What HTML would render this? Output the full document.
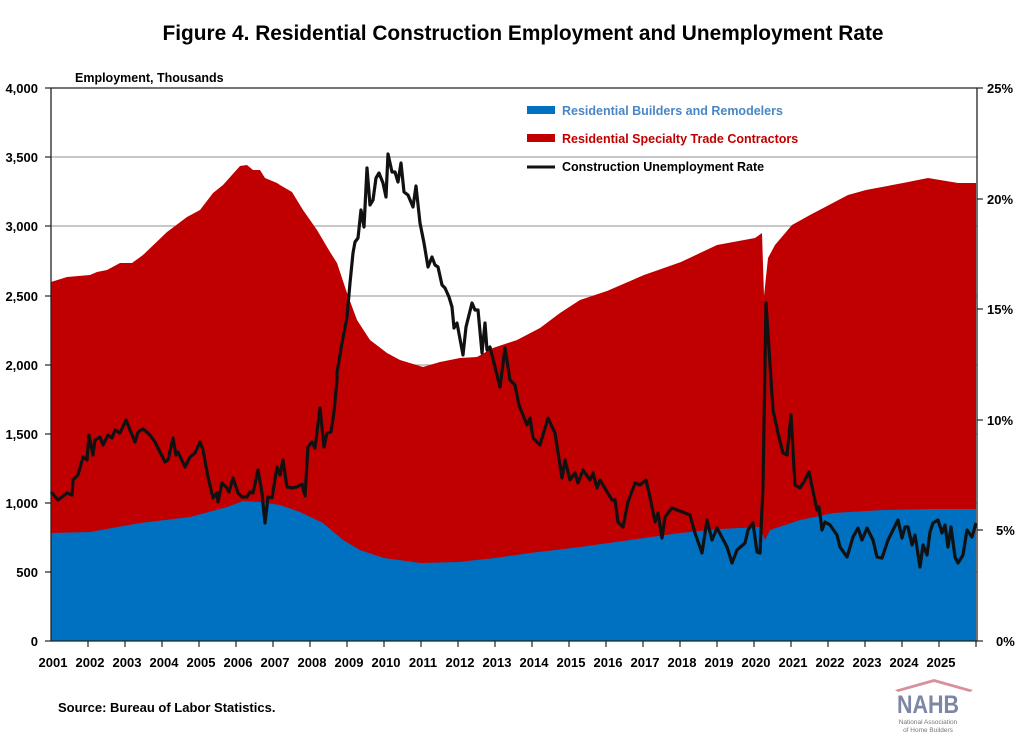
<!DOCTYPE html>
<html><head><meta charset="utf-8"><style>
html,body{margin:0;padding:0;background:#fff;}
svg{display:block;font-family:"Liberation Sans",Arial,sans-serif;}
</style></head><body>
<svg width="1021" height="742" viewBox="0 0 1021 742" xmlns="http://www.w3.org/2000/svg">
<rect width="1021" height="742" fill="#fff"/>
<text x="523" y="40" font-size="21" font-weight="bold" text-anchor="middle" textLength="721" lengthAdjust="spacingAndGlyphs">Figure 4. Residential Construction Employment and Unemployment Rate</text>
<g stroke="#a6a6a6" stroke-width="1.2">
<line x1="51" x2="977" y1="572" y2="572"/><line x1="51" x2="977" y1="503" y2="503"/>
<line x1="51" x2="977" y1="434" y2="434"/><line x1="51" x2="977" y1="365" y2="365"/>
<line x1="51" x2="977" y1="296" y2="296"/><line x1="51" x2="977" y1="226" y2="226"/>
<line x1="51" x2="977" y1="157" y2="157"/>
</g>
<polygon fill="#c00000" points="51,641 51,282 67,277 90,275 97,272 107,270 120,263 132,263 143,255 167,232 187,217 200,210 213,193 223,185 240,166 247,165 253,170 260,170 265,178 277,183 280,185 292,192 303,210 317,230 330,252 337,263 347,293 357,320 370,340 387,353 400,360 423,367 440,362 460,358 477,357 493,348 517,340 540,328 560,313 580,300 607,291 644,275 681,262 717,245 755,238 762,233 764,296 768,258 775,245 792,225 810,215 829,205 848,195 866,190 903,183 928,178 940,180 958,183 976,183 976,641"/>
<polygon fill="#0070c0" points="51,641 51,533 90,532 140,523 190,517 227,507 243,501 260,502 280,505 300,512 323,523 343,540 360,550 384,558 421,563 458,562 495,558 530,553 580,547 630,540 680,533 720,529 760,527 765,540 770,530 800,520 833,513 883,510 930,509 976,509 976,641"/>
<polyline fill="none" stroke="#111" stroke-width="3.2" stroke-linejoin="round" points="51,494 52,493 58,500 67,493 72,495 73,480 78,475 83,457 87,460 89,435 93,455 95,440 100,437 103,445 108,435 112,438 115,430 120,433 126,420 130,430 135,442 138,432 143,429 150,435 155,442 160,452 165,462 168,460 173,438 176,455 178,452 185,467 190,457 195,453 200,442 203,450 208,477 213,498 217,493 218,502 222,483 227,488 229,492 233,478 238,493 242,497 247,497 250,492 253,493 258,470 262,493 265,523 268,497 272,498 277,467 280,475 283,460 287,487 292,488 297,487 302,484 305,496 308,447 312,442 315,448 320,408 324,447 327,433 331,432 334,412 337,380 337,373 342,343 347,317 350,283 353,253 355,242 358,238 361,210 364,227 367,168 370,205 373,200 376,178 379,173 383,183 386,197 388,154 392,172 395,172 398,182 401,163 404,192 408,195 413,207 416,186 420,223 424,243 428,267 432,257 435,265 438,267 442,285 445,288 449,297 452,307 454,328 457,323 463,355 466,327 472,303 475,310 478,310 482,353 485,323 487,350 490,347 495,367 500,387 505,348 510,380 515,385 519,405 527,425 530,418 533,438 540,445 548,418 555,433 562,478 565,460 570,480 575,473 578,483 583,470 590,480 593,473 597,488 600,480 612,500 615,500 618,522 623,527 628,502 635,483 640,485 646,480 650,497 655,522 658,513 662,538 665,517 672,508 677,510 685,513 690,515 695,533 702,553 707,520 712,540 717,528 727,547 732,563 737,550 745,543 748,530 753,523 757,552 760,553 763,487 766,303 773,410 778,433 783,453 787,455 791,415 795,485 800,488 805,480 809,472 817,510 819,507 822,530 825,522 830,525 837,535 840,547 847,557 853,537 858,528 862,540 867,528 873,540 877,557 882,558 888,540 893,530 898,520 902,538 905,527 908,527 912,545 915,535 920,567 923,545 927,555 930,532 933,523 938,520 942,533 945,525 948,547 951,527 955,557 958,563 963,555 967,530 972,537 976,523"/>
<g stroke="#222" stroke-width="1.3" fill="none">
<line x1="51" y1="88" x2="977" y2="88"/>
<line x1="51" y1="88" x2="51" y2="641"/>
<line x1="977" y1="88" x2="977" y2="641"/>
<line x1="51" y1="641" x2="977" y2="641"/>
</g>
<g stroke="#222" stroke-width="1.2">
<line x1="45" x2="51" y1="88" y2="88"/><line x1="45" x2="51" y1="157" y2="157"/><line x1="45" x2="51" y1="226" y2="226"/><line x1="45" x2="51" y1="296" y2="296"/><line x1="45" x2="51" y1="365" y2="365"/><line x1="45" x2="51" y1="434" y2="434"/><line x1="45" x2="51" y1="503" y2="503"/><line x1="45" x2="51" y1="572" y2="572"/><line x1="45" x2="51" y1="641" y2="641"/>
<line x1="977" x2="983" y1="88" y2="88"/><line x1="977" x2="983" y1="199" y2="199"/><line x1="977" x2="983" y1="309" y2="309"/><line x1="977" x2="983" y1="420" y2="420"/><line x1="977" x2="983" y1="530" y2="530"/><line x1="977" x2="983" y1="641" y2="641"/>
</g>
<g stroke="#222" stroke-width="1.2" id="xt"></g>
<g font-size="13" font-weight="bold" text-anchor="end" fill="#000">
<text x="38" y="93">4,000</text><text x="38" y="162">3,500</text><text x="38" y="231">3,000</text><text x="38" y="301">2,500</text><text x="38" y="370">2,000</text><text x="38" y="439">1,500</text><text x="38" y="508">1,000</text><text x="38" y="577">500</text><text x="38" y="646">0</text>
</g>
<g font-size="13" font-weight="bold" fill="#000">
<text x="987" y="93">25%</text><text x="987" y="204">20%</text><text x="987" y="314">15%</text><text x="987" y="425">10%</text><text x="996" y="535">5%</text><text x="996" y="646">0%</text>
</g>
<text x="75" y="82" font-size="12.5" font-weight="bold">Employment, Thousands</text>
<g stroke="#222" stroke-width="1.2">
<line x1="88" x2="88" y1="641" y2="647"/><line x1="125" x2="125" y1="641" y2="647"/><line x1="162" x2="162" y1="641" y2="647"/><line x1="199" x2="199" y1="641" y2="647"/><line x1="236" x2="236" y1="641" y2="647"/><line x1="273" x2="273" y1="641" y2="647"/><line x1="310" x2="310" y1="641" y2="647"/><line x1="347" x2="347" y1="641" y2="647"/><line x1="384" x2="384" y1="641" y2="647"/><line x1="421" x2="421" y1="641" y2="647"/><line x1="458" x2="458" y1="641" y2="647"/><line x1="495" x2="495" y1="641" y2="647"/><line x1="532" x2="532" y1="641" y2="647"/><line x1="569" x2="569" y1="641" y2="647"/><line x1="606" x2="606" y1="641" y2="647"/><line x1="643" x2="643" y1="641" y2="647"/><line x1="680" x2="680" y1="641" y2="647"/><line x1="717" x2="717" y1="641" y2="647"/><line x1="754" x2="754" y1="641" y2="647"/><line x1="791" x2="791" y1="641" y2="647"/><line x1="828" x2="828" y1="641" y2="647"/><line x1="865" x2="865" y1="641" y2="647"/><line x1="902" x2="902" y1="641" y2="647"/><line x1="939" x2="939" y1="641" y2="647"/><line x1="976" x2="976" y1="641" y2="647"/>
</g>
<g font-size="13" font-weight="bold" text-anchor="middle" fill="#000">
<text x="53" y="667">2001</text><text x="90" y="667">2002</text><text x="127" y="667">2003</text><text x="164" y="667">2004</text><text x="201" y="667">2005</text><text x="238" y="667">2006</text><text x="275" y="667">2007</text><text x="312" y="667">2008</text><text x="349" y="667">2009</text><text x="386" y="667">2010</text><text x="423" y="667">2011</text><text x="460" y="667">2012</text><text x="497" y="667">2013</text><text x="534" y="667">2014</text><text x="571" y="667">2015</text><text x="608" y="667">2016</text><text x="645" y="667">2017</text><text x="682" y="667">2018</text><text x="719" y="667">2019</text><text x="756" y="667">2020</text><text x="793" y="667">2021</text><text x="830" y="667">2022</text><text x="867" y="667">2023</text><text x="904" y="667">2024</text><text x="941" y="667">2025</text>
</g>
<rect x="527" y="106" width="28" height="8" fill="#0070c0"/>
<text x="562" y="115" font-size="12.5" font-weight="bold" fill="#4a86c5">Residential Builders and Remodelers</text>
<rect x="527" y="134" width="28" height="8" fill="#c00000"/>
<text x="562" y="143" font-size="12.5" font-weight="bold" fill="#c00000">Residential Specialty Trade Contractors</text>
<line x1="527" y1="167" x2="555" y2="167" stroke="#111" stroke-width="3"/>
<text x="562" y="171" font-size="12.5" font-weight="bold" fill="#000">Construction Unemployment Rate</text>
<text x="58" y="712" font-size="13" font-weight="bold">Source: Bureau of Labor Statistics.</text>
<polygon points="895,690 934,679 973,690 970,692 934,682 898,692" fill="#d9909a"/>
<text x="928" y="713" font-size="25" font-weight="bold" fill="#7d86a6" text-anchor="middle" textLength="62" lengthAdjust="spacingAndGlyphs">NAHB</text>
<text x="928" y="724" font-size="6.5" fill="#777" text-anchor="middle">National Association</text>
<text x="928" y="732" font-size="6.5" fill="#777" text-anchor="middle">of Home Builders</text>
</svg>
</body></html>
